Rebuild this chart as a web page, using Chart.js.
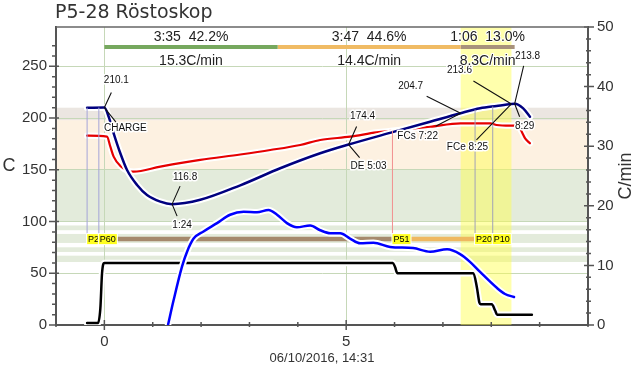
<!DOCTYPE html>
<html>
<head>
<meta charset="utf-8">
<script src="https://cdn.jsdelivr.net/npm/chart.js@4"></script>
<style>
  html, body { margin: 0; padding: 0; background: #fff; }
</style>
</head>
<body>
<canvas id="roast" width="640" height="370"></canvas>
<script>
// roast profile, times in minutes from CHARGE
const btTime = [-0.357, 0, 0.089, 0.192, 0.33, 0.469, 0.676, 0.882, 1.157, 1.4, 1.983, 2.81, 3.636, 4.463, 5.05, 5.977, 6.736, 7.367, 7.769, 8.11, 8.417, 8.483, 8.66, 8.8];
const btTemp = [210.0, 210.1, 201.3, 185.3, 166.0, 149.8, 135.3, 125.6, 119.2, 116.8, 121.0, 135.0, 151.5, 166.0, 174.4, 186.6, 196.5, 204.7, 209.4, 211.7, 213.6, 213.8, 209.4, 201.3];

const etTime = [-0.357, 0.054, 0.124, 0.192, 0.33, 0.503, 0.606, 1.157, 1.983, 2.81, 3.43, 4.05, 4.463, 5.08, 5.63, 5.97, 6.736, 7.367, 7.98, 8.11, 8.39, 8.55, 8.63, 8.70, 8.80];
const etTemp = [183.0, 182.0, 172.3, 162.7, 153.7, 148.8, 148.2, 153.0, 159.5, 164.8, 169.1, 174.0, 178.8, 182.0, 186.2, 187.8, 191.6, 194.9, 194.9, 193.3, 192.6, 192.6, 186.8, 180.4, 175.6];

const rorTime = [1.316, 1.43, 1.605, 1.71, 1.845, 2.05, 2.33, 2.60, 2.88, 3.155, 3.395, 3.57, 3.775, 3.98, 4.256, 4.463, 4.67, 4.876, 5.08, 5.29, 5.564, 5.909, 6.384, 6.736, 7.087, 7.355, 7.56, 7.769, 8.12, 8.285, 8.47];
const rorValue = [0, 4.1, 9.8, 12.3, 14.5, 15.7, 17.1, 18.5, 19.0, 18.9, 19.3, 18.5, 17.1, 16.4, 16.7, 15.9, 15.4, 15.4, 14.5, 13.7, 13.8, 13.1, 12.9, 12.3, 12.7, 11.9, 10.6, 8.9, 6.2, 5.2, 4.7];

const heatTime = [-0.357, -0.13, -0.083, -0.048, 0, 5.965, 6.01, 6.06, 7.63, 7.70, 7.755, 7.78, 8.01, 8.08, 8.12, 8.84];
const heatValue = [2, 2, 16, 50, 60, 60, 56, 50, 50, 37, 21.5, 20, 20, 14, 10, 10];

// power events
const eventTime = [-0.357, -0.114, 5.957, 7.665, 8.03];
const eventName = ['P2', 'P60', 'P51', 'P20', 'P10'];
const eventCurve = ['BT', 'BT', 'ET', 'BT', 'BT'];

// marked points: CHARGE, TP, DE, FCs, FCe, DROP
const markTime = [0, 1.4, 5.05, 7.367, 8.417, 8.483];
const markTemp = [210.1, 116.8, 174.4, 204.7, 213.6, 213.8];
const markTop = ['210.1', '116.8', '174.4', '204.7', '213.6', '213.8'];
const markBottom = ['CHARGE', '1:24', 'DE 5:03', 'FCs 7:22', 'FCe 8:25', '8:29'];

// roast phases
const phaseStart = [0, 3.583, 7.367];
const phaseEnd = [3.583, 7.367, 8.483];
const phaseTop = ['3:35  42.2%', '3:47  44.6%', '1:06  13.0%'];
const phaseRate = ['15.3C/min', '14.4C/min', '8.3C/min'];

// background bands (C)
const bandTemps = [100, 150, 198, 210];
const stripeTemps = [[91.6, 96.2], [79.3, 88], [70.6, 75.1], [60.9, 67]];

const phaseBarLevel = 268.7;
const eventBarLevel = 83;

const FONT = 'Liberation Sans';
const toPts = (xs, ys) => xs.map((x, i) => ({ x: x, y: ys[i] }));

function interp(xs, ys, t) {
  if (t <= xs[0]) return ys[0];
  for (let i = 1; i < xs.length; i++) {
    if (t <= xs[i]) {
      const f = (t - xs[i - 1]) / (xs[i] - xs[i - 1]);
      return ys[i - 1] + f * (ys[i] - ys[i - 1]);
    }
  }
  return ys[ys.length - 1];
}

function curve(xs, ys, color, width, axis, order) {
  const base = {
    data: toPts(xs, ys), yAxisID: axis, pointRadius: 0,
    cubicInterpolationMode: 'monotone', borderCapStyle: 'round', borderJoinStyle: 'round'
  };
  return [
    Object.assign({}, base, { borderColor: color, borderWidth: width, order: order }),
    Object.assign({}, base, { borderColor: '#ffffff', borderWidth: width + 4, order: order + 1 })
  ];
}

function flatBar(x0, x1, level, color, width) {
  return {
    data: [{ x: x0, y: level }, { x: x1, y: level }], yAxisID: 'y',
    borderColor: color, borderWidth: width, pointRadius: 0, order: 20, borderCapStyle: 'butt'
  };
}

const phaseColors = ['#76a85e', '#f0bb64', '#a8927b'];
const eventBarColors = ['#c8b49c', '#a5896c', '#efb860', '#a0a0a0'];

const datasets = [];
datasets.push(...curve(btTime, btTemp, '#00007f', 2.5, 'y', 1));
datasets.push(...curve(etTime, etTemp, '#e60000', 2.2, 'y', 3));
datasets.push(...curve(rorTime, rorValue, '#0000ff', 2.5, 'y1', 5));
datasets.push(...curve(heatTime, heatValue, '#000000', 2.5, 'y', 7));
phaseStart.forEach((s, i) => datasets.push(flatBar(s, phaseEnd[i], phaseBarLevel, phaseColors[i], 4)));
for (let i = 0; i < eventTime.length - 1; i++) {
  datasets.push(flatBar(eventTime[i], eventTime[i + 1], eventBarLevel, eventBarColors[i], 4.5));
}

// label / leader offsets in pixels: t = top text, tl = top leader end, b = bottom text, bl = bottom leader end
const markOffsets = [
  { t: [12, -27], tl: [7, -15], b: [21, 21], bl: [12, 15] },
  { t: [13, -27], tl: [8, -18], b: [10, 21], bl: [5, 12] },
  { t: [14, -28], tl: [8, -18], b: [20, 22], bl: [11, 13] },
  { t: [-50, -27], tl: [-34, -17], b: [-43, 23], bl: [-25, 13] },
  { t: [-52, -34], tl: [-38, -23], b: [-44, 43], bl: [-35, 36] },
  { t: [13, -48], tl: [9, -38], b: [10, 22], bl: [5, 13] }
];
const eventLineColors = ['#a4a4d8', '#a4a4d8', '#f29090', '#a0a2b8', '#a0a2b8'];

function haloText(ctx, txt, x, y, w) {
  ctx.lineWidth = w || 3;
  ctx.strokeStyle = '#ffffff';
  ctx.lineJoin = 'round';
  ctx.strokeText(txt, x, y);
  ctx.fillText(txt, x, y);
}

const roastDecor = {
  id: 'roastDecor',
  beforeDraw(chart) {
    const { ctx, chartArea: a, scales: { y } } = chart;
    ctx.save();
    ctx.fillStyle = '#ffffff';
    ctx.fillRect(0, 0, chart.width, chart.height);
    const band = (lo, hi, color) => {
      const top = y.getPixelForValue(hi), bot = y.getPixelForValue(lo);
      ctx.fillStyle = color;
      ctx.fillRect(a.left, top, a.right - a.left, bot - top);
    };
    band(bandTemps[0], bandTemps[1], '#e3ebdb');
    band(bandTemps[1], bandTemps[2], '#fdf1e1');
    band(bandTemps[2], bandTemps[3], '#ebe6e1');
    stripeTemps.forEach(s => band(s[0], s[1], '#e3ebdb'));
    ctx.restore();
  },
  beforeDatasetsDraw(chart) {
    const { ctx, chartArea: a, scales: { x } } = chart;
    ctx.save();
    const x0 = x.getPixelForValue(markTime[3]), x1 = x.getPixelForValue(markTime[4]);
    ctx.fillStyle = 'rgba(255,255,70,0.45)';
    ctx.fillRect(x0, a.top, x1 - x0, a.bottom - a.top);
    ctx.restore();
  },
  afterDatasetsDraw(chart) {
    const { ctx, chartArea: a, scales: { x, y } } = chart;
    ctx.save();
    // event markers
    const labelY = y.getPixelForValue(eventBarLevel);
    ctx.font = '9px ' + FONT;
    ctx.textBaseline = 'middle';
    ctx.textAlign = 'left';
    eventTime.forEach((t, i) => {
      const px = x.getPixelForValue(t);
      const v = eventCurve[i] === 'ET' ? interp(etTime, etTemp, t) : interp(btTime, btTemp, t);
      ctx.strokeStyle = eventLineColors[i];
      ctx.lineWidth = 1;
      ctx.beginPath();
      ctx.moveTo(px, y.getPixelForValue(v));
      ctx.lineTo(px, labelY - 5);
      ctx.stroke();
      const w = ctx.measureText(eventName[i]).width + 2;
      ctx.fillStyle = '#ffffff';
      ctx.fillRect(px - 1, labelY - 6, w + 2, 12);
      ctx.fillStyle = '#ffff20';
      ctx.fillRect(px, labelY - 5, w, 10);
      ctx.fillStyle = '#000';
      ctx.fillText(eventName[i], px + 1, labelY + 0.5);
    });
    // marked points
    ctx.font = '10px ' + FONT;
    ctx.textAlign = 'center';
    markTime.forEach((t, i) => {
      const px = x.getPixelForValue(t), py = y.getPixelForValue(markTemp[i]);
      const o = markOffsets[i];
      ctx.strokeStyle = '#111';
      ctx.lineWidth = 1.1;
      ctx.beginPath();
      ctx.moveTo(px, py); ctx.lineTo(px + o.tl[0], py + o.tl[1]);
      ctx.moveTo(px, py); ctx.lineTo(px + o.bl[0], py + o.bl[1]);
      ctx.stroke();
      ctx.fillStyle = '#111';
      haloText(ctx, markTop[i], px + o.t[0], py + o.t[1]);
      haloText(ctx, markBottom[i], px + o.b[0], py + o.b[1]);
    });
    // phase texts
    const barY = y.getPixelForValue(phaseBarLevel);
    ctx.font = '14px ' + FONT;
    ctx.fillStyle = '#222';
    phaseStart.forEach((s, i) => {
      const cx = (x.getPixelForValue(s) + x.getPixelForValue(phaseEnd[i])) / 2;
      haloText(ctx, phaseTop[i], cx, barY - 10, 2);
      haloText(ctx, phaseRate[i], cx, barY + 14, 2);
    });
    ctx.restore();
  },
  afterDraw(chart) {
    const { ctx, chartArea: a, scales: { x, y, y1 } } = chart;
    ctx.save();
    ctx.strokeStyle = '#555';
    ctx.lineWidth = 1.5;
    ctx.beginPath();
    y.ticks.forEach(t => {
      const p = y.getPixelForValue(t.value);
      const major = t.value % 50 === 0;
      ctx.moveTo(a.left - (major ? 7 : 4), p); ctx.lineTo(a.left + (major ? 3 : 1), p);
    });
    y1.ticks.forEach(t => {
      const p = y1.getPixelForValue(t.value);
      const major = t.value % 10 === 0;
      ctx.moveTo(a.right - (major ? 4 : 2), p); ctx.lineTo(a.right + (major ? 6 : 3), p);
    });
    x.ticks.forEach(t => {
      const p = x.getPixelForValue(t.value);
      const major = t.value === 0 || t.value === 5;
      ctx.moveTo(p, a.bottom - (major ? 5 : 3)); ctx.lineTo(p, a.bottom + (major ? 5 : 2));
    });
    ctx.stroke();
    // top spine
    ctx.strokeStyle = '#666';
    ctx.beginPath();
    ctx.moveTo(a.left, a.top); ctx.lineTo(a.right, a.top);
    ctx.stroke();
    // titles
    ctx.fillStyle = '#333';
    ctx.textBaseline = 'middle';
    ctx.textAlign = 'left';
    ctx.font = '19px DejaVu Sans';
    ctx.fillText('P5-28 Röstoskop', 55, 13);
    ctx.textAlign = 'center';
    ctx.font = '18px ' + FONT;
    ctx.fillText('C', 9, 166);
    ctx.save();
    ctx.translate(626, (a.top + a.bottom) / 2);
    ctx.rotate(-Math.PI / 2);
    ctx.fillText('C/min', 0, 0);
    ctx.restore();
    ctx.font = '13px ' + FONT;
    ctx.fillText('06/10/2016, 14:31', (a.left + a.right) / 2, 358);
    ctx.restore();
  }
};

const gridGreen = '#c6d8b8';
const tickFont = { family: FONT, size: 15 };

new Chart(document.getElementById('roast'), {
  type: 'line',
  data: { datasets: datasets },
  options: {
    responsive: false,
    animation: false,
    parsing: true,
    layout: { padding: { top: 27, left: 0, right: 0, bottom: 0 } },
    plugins: { legend: { display: false }, tooltip: { enabled: false }, title: { display: false } },
    scales: {
      x: {
        type: 'linear', min: -1, max: 10,
        afterFit: s => { s.height = 45; },
        ticks: {
          stepSize: 1, autoSkip: false, maxRotation: 0, padding: 8, color: '#333', font: tickFont,
          callback: v => (v === 0 || v === 5) ? String(v) : ''
        },
        grid: {
          drawTicks: false,
          color: c => (c.tick && (c.tick.value === 0 || c.tick.value === 5)) ? gridGreen : 'rgba(0,0,0,0)'
        },
        border: { color: '#555', width: 2 }
      },
      y: {
        type: 'linear', position: 'left', min: 0, max: 288,
        afterFit: s => { s.width = 56; },
        afterBuildTicks: s => { s.ticks = s.ticks.filter(t => t.value % 10 === 0); },
        ticks: {
          stepSize: 10, autoSkip: false, padding: 9, color: '#333', font: tickFont,
          callback: v => v % 50 === 0 ? String(v) : ''
        },
        grid: {
          drawTicks: false,
          color: c => (c.tick && c.tick.value % 50 === 0 && c.tick.value > 0) ? gridGreen : 'rgba(0,0,0,0)'
        },
        border: { color: '#555', width: 2 }
      },
      y1: {
        type: 'linear', position: 'right', min: 0, max: 50,
        afterFit: s => { s.width = 52; },
        ticks: {
          stepSize: 2, autoSkip: false, padding: 9, color: '#333', font: tickFont,
          callback: v => v % 10 === 0 ? String(v) : ''
        },
        grid: { drawTicks: false, drawOnChartArea: false },
        border: { color: '#555', width: 2 }
      }
    }
  },
  plugins: [roastDecor]
});
</script>
</body>
</html>
